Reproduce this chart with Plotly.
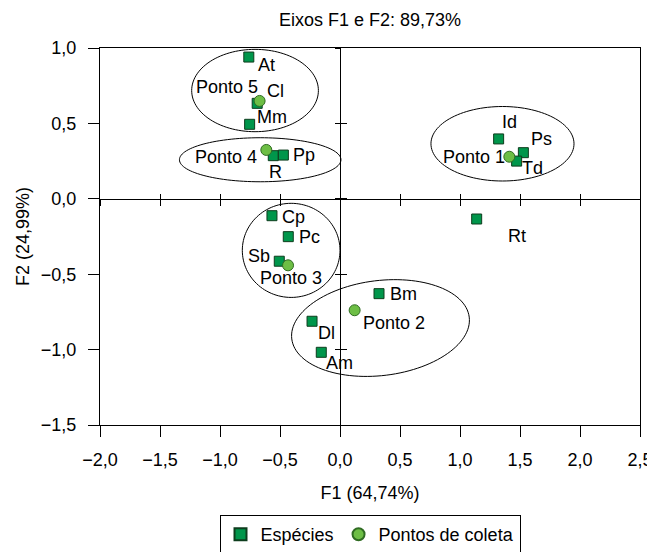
import math
import plotly.graph_objects as go

# ---------------- data ----------------
species = ["At", "Cl", "Mm", "R", "Pp", "Cp", "Pc", "Sb", "Bm", "Dl", "Am", "Rt", "Id", "Ps", "Td"]
species_f1 = [-0.76, -0.69, -0.753, -0.556, -0.472, -0.567, -0.431, -0.506, 0.325, -0.233, -0.156, 1.139, 1.322, 1.528, 1.472]
species_f2 = [0.94, 0.633, 0.494, 0.286, 0.29, -0.112, -0.251, -0.414, -0.629, -0.812, -1.018, -0.134, 0.397, 0.306, 0.25]

sites = ["Ponto 1", "Ponto 2", "Ponto 3", "Ponto 4", "Ponto 5"]
sites_f1 = [1.411, 0.122, -0.433, -0.614, -0.67]
sites_f2 = [0.279, -0.739, -0.441, 0.324, 0.649]

# group ellipses: centre (F1, F2), semi-axes (F1 units, F2 units), tilt (deg on screen)
ell_cx = [1.354, 0.3375, -0.407, -0.665, -0.708]
ell_cy = [0.365, -0.857, -0.342, 0.259, 0.718]
ell_rx = [0.596, 0.745, 0.407, 0.673, 0.528]
ell_ry = [0.247, 0.315, 0.312, 0.146, 0.273]
ell_tilt = [0, 7, 0, 0, 0]

x_ticks = [-2.0, -1.5, -1.0, -0.5, 0.0, 0.5, 1.0, 1.5, 2.0, 2.5]
y_ticks = [-1.5, -1.0, -0.5, 0.0, 0.5, 1.0]

title_text = "Eixos F1 e F2: 89,73%"
x_title = "F1 (64,74%)"
y_title = "F2 (24,99%)"

# ---------------- style / layout ----------------
PAGE_OFF = 8                      # default body margin of the html page
W, H = 655 - PAGE_OFF, 552 - PAGE_OFF
ML, MR, MT, MB = 100 - PAGE_OFF, 15, 48 - PAGE_OFF, 127
XR = [-2.0, 2.5]
YR = [-1.5, 1.0]
px_x = (W - ML - MR) / (XR[1] - XR[0])
px_y = (H - MT - MB) / (YR[1] - YR[0])
FONT = "Liberation Sans, Arial, sans-serif"
FS = 18

# label placement (xanchor, dx px, dy px downward)
label_style = {
    "At": ("left", 7, 8), "Cl": ("left", 8, -12), "Mm": ("left", 5, -7),
    "R": ("center", 2, 16), "Pp": ("left", 8, 0), "Cp": ("left", 8, 1),
    "Pc": ("left", 9, 0), "Sb": ("right", -7, -5), "Bm": ("left", 9, 0),
    "Dl": ("left", 4, 12), "Am": ("left", 3, 11), "Rt": ("left", 29, 17),
    "Id": ("center", 11, -17), "Ps": ("left", 6, -14), "Td": ("left", 3, 7),
    "Ponto 1": ("right", -2, 0), "Ponto 2": ("left", 6, 13), "Ponto 3": ("center", 3, 13),
    "Ponto 4": ("right", -7, 7), "Ponto 5": ("right", 0, -14),
}

fig = go.Figure()

fig.add_trace(go.Scatter(
    x=species_f1, y=species_f2, mode="markers", name="Espécies",
    marker=dict(symbol="square", size=10, color="#00964B", line=dict(color="#0d3d1d", width=1)),
    hoverinfo="skip",
))
fig.add_trace(go.Scatter(
    x=sites_f1, y=sites_f2, mode="markers", name="Pontos de coleta",
    marker=dict(symbol="circle", size=11, color="#6DBE45", line=dict(color="#2f6b22", width=1)),
    hoverinfo="skip",
))

# dummy traces so the overlay axes (zero lines with crossing ticks) get drawn
for xa, ya in [("x2", "y"), ("x3", "y"), ("x", "y2"), ("x", "y3")]:
    fig.add_trace(go.Scatter(x=[None], y=[None], xaxis=xa, yaxis=ya, showlegend=False, hoverinfo="skip"))

# labels
annotations = []
for names, xs, ys in [(species, species_f1, species_f2), (sites, sites_f1, sites_f2)]:
    for n, xv, yv in zip(names, xs, ys):
        xa, dx, dy = label_style[n]
        annotations.append(dict(
            x=xv, y=yv, xref="x", yref="y", text=n, showarrow=False,
            xanchor=xa, yanchor="middle", xshift=dx, yshift=-dy,
            font=dict(family=FONT, size=FS, color="black"),
        ))

# ellipses
shapes = []
for cx, cy, rx, ry, tilt in zip(ell_cx, ell_cy, ell_rx, ell_ry, ell_tilt):
    a, b = rx * px_x, ry * px_y
    th = math.radians(tilt)
    pts = []
    for i in range(121):
        t = 2 * math.pi * i / 120
        u, v = a * math.cos(t), b * math.sin(t)
        X = u * math.cos(th) - v * math.sin(th)
        Y = u * math.sin(th) + v * math.cos(th)
        pts.append((cx + X / px_x, cy + Y / px_y))
    path = "M " + " L ".join(f"{p[0]:.5f},{p[1]:.5f}" for p in pts) + " Z"
    shapes.append(dict(type="path", path=path, xref="x", yref="y",
                       line=dict(color="black", width=1), layer="below"))

tickfont = dict(family=FONT, size=FS, color="black")
base_x = dict(range=XR, autorange=False, tickvals=x_ticks, tickformat=".1f", showgrid=False,
              zeroline=False, automargin=False)
base_y = dict(range=YR, autorange=False, tickvals=y_ticks, tickformat=".1f", showgrid=False,
              zeroline=False, automargin=False)

x_zero_pos = (0 - YR[0]) / (YR[1] - YR[0])
y_zero_pos = (0 - XR[0]) / (XR[1] - XR[0])

fig.update_layout(
    width=W, height=H,
    margin=dict(l=ML, r=MR, t=MT, b=MB, autoexpand=False),
    paper_bgcolor="white", plot_bgcolor="white",
    separators=",.",
    font=dict(family=FONT, size=FS, color="black"),
    title=dict(text=title_text, x=(ML + (W - ML - MR) / 2) / W, xanchor="center",
               y=1 - (20 - PAGE_OFF) / H, yanchor="middle", font=dict(family=FONT, size=FS, color="black")),
    xaxis=dict(**base_x, ticks="outside", ticklen=11, tickcolor="black", showline=True, linecolor="black",
               linewidth=1, mirror=True, tickfont=tickfont, ticklabelstandoff=7,
               title=dict(text=x_title, font=tickfont, standoff=17)),
    yaxis=dict(**base_y, ticks="outside", ticklen=11, tickcolor="black", showline=True, linecolor="black",
               linewidth=1, mirror=True, tickfont=tickfont, ticklabelstandoff=8,
               title=dict(text=y_title, font=tickfont, standoff=6)),
    xaxis2=dict(**base_x, overlaying="x", anchor="free", position=x_zero_pos, ticks="outside", ticklen=6,
                tickcolor="black", showline=True, linecolor="black", linewidth=1, showticklabels=False),
    xaxis3=dict(**base_x, overlaying="x", anchor="free", position=x_zero_pos, ticks="inside", ticklen=5,
                tickcolor="black", showline=False, showticklabels=False),
    yaxis2=dict(**base_y, overlaying="y", anchor="free", position=y_zero_pos, ticks="outside", ticklen=5,
                tickcolor="black", showline=True, linecolor="black", linewidth=1, showticklabels=False),
    yaxis3=dict(**base_y, overlaying="y", anchor="free", position=y_zero_pos, ticks="inside", ticklen=6,
                tickcolor="black", showline=False, showticklabels=False),
    legend=dict(orientation="h", x=0.5, xanchor="center", y=-(515 - 425) / (H - MT - MB), yanchor="top",
                bordercolor="black", borderwidth=1, font=dict(family=FONT, size=FS, color="black"),
                itemsizing="constant"),
    showlegend=True,
    annotations=annotations,
    shapes=shapes,
)

fig.write_html("out.html")
